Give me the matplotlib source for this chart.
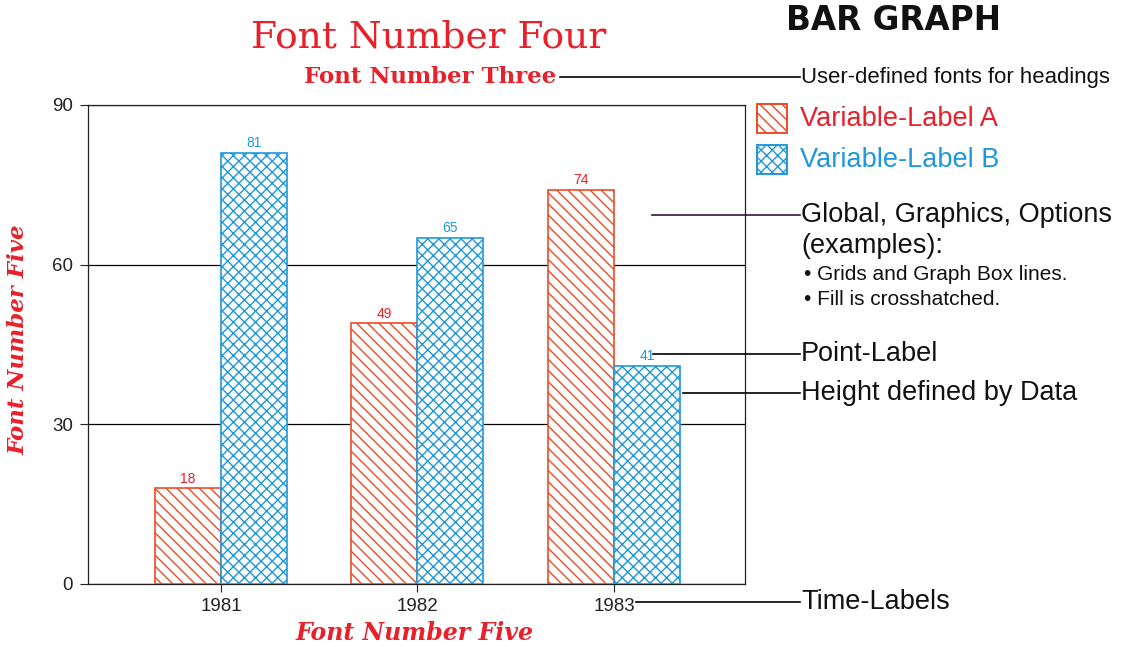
import matplotlib
matplotlib.use('Agg')
import matplotlib.pyplot as plt
from matplotlib.lines import Line2D
from matplotlib.patches import Rectangle

years = ['1981', '1982', '1983']
vals_a = [18, 49, 74]
vals_b = [81, 65, 41]
y_ticks = [0, 30, 60, 90]

red = '#e8202a'
red_edge = '#f04a26'
blue = '#1e98da'

W, H = 1132, 647
plt.rcParams['hatch.linewidth'] = 1.0

fig = plt.figure(figsize=(W / 100.0, H / 100.0), dpi=100)
ax = fig.add_axes([88.0 / W, 1 - 584.0 / H, 657.0 / W, 479.0 / H])

bw = 0.336
xs = list(range(len(years)))
ax.bar([x - bw / 2 for x in xs], vals_a, width=bw, facecolor='white',
       edgecolor=red_edge, hatch='\\\\\\', linewidth=1.2, zorder=3)
ax.bar([x + bw / 2 for x in xs], vals_b, width=bw, facecolor='white',
       edgecolor=blue, hatch='xxx', linewidth=1.2, zorder=3)

for x, v in zip(xs, vals_a):
    ax.text(x - bw / 2, v + 0.5, str(v), ha='center', va='bottom',
            fontsize=10, color=red, family='Liberation Sans')
for x, v in zip(xs, vals_b):
    ax.text(x + bw / 2, v + 0.5, str(v), ha='center', va='bottom',
            fontsize=10, color=blue, family='Liberation Sans')

ax.set_xlim(-0.677, 2.667)
ax.set_ylim(0, 90)
ax.set_yticks(y_ticks)
ax.set_xticks(xs)
ax.set_xticklabels(years)
ax.tick_params(axis='both', direction='out', length=6, width=0.8,
               labelsize=13.5, colors='#222222')
ax.tick_params(axis='y', pad=5)
ax.tick_params(axis='x', pad=4)
for t in ax.get_xticklabels() + ax.get_yticklabels():
    t.set_family('Liberation Sans')
ax.yaxis.grid(True, color='black', linewidth=0.9, zorder=1)
ax.set_axisbelow(True)
for s in ax.spines.values():
    s.set_linewidth(0.9)
    s.set_color('#222222')

def px(x, y):
    return x / W, 1 - y / H

def leader(x0, x1, y, color='black'):
    fig.add_artist(Line2D([x0 / W, x1 / W], [1 - y / H, 1 - y / H],
                          transform=fig.transFigure, color=color, linewidth=1.2))

# axis titles
fig.text(*px(19, 340), 'Font Number Five', fontsize=16.5, color=red,
         family='DejaVu Serif', style='italic', fontweight='bold',
         rotation=90, ha='center', va='center')
fig.text(*px(415, 633), 'Font Number Five', fontsize=17, color=red,
         family='DejaVu Serif', style='italic', fontweight='bold',
         ha='center', va='center')

fig.text(*px(429, 38), 'Font Number Four', fontsize=27, color=red,
         family='DejaVu Serif', ha='center', va='center')
fig.text(*px(556, 77), 'Font Number Three', fontsize=16.5, color=red,
         family='DejaVu Serif', fontweight='bold', ha='right', va='center')
fig.text(*px(894, 20), 'BAR GRAPH', fontsize=23.5, color='#111111',
         family='DejaVu Sans', fontweight='bold', ha='center', va='center')

sans = 'Liberation Sans'
leader(560, 800, 77)
fig.text(*px(801, 77), 'User-defined fonts for headings', fontsize=15.9,
         family=sans, va='center', color='#111111')

# legend swatches
for y0, col, hatch, label in [(104, red_edge, '\\\\\\', 'Variable-Label A'),
                              (145, blue, 'xxx', 'Variable-Label B')]:
    x0, y1 = px(757, y0 + 29)
    fig.add_artist(Rectangle((x0, y1), 30.0 / W, 29.0 / H, transform=fig.transFigure,
                             facecolor='white', edgecolor=col, hatch=hatch,
                             linewidth=1.4))
    fig.text(*px(800, y0 + 15), label, fontsize=19.5, family=sans, va='center',
             color=red if col == red_edge else blue)

leader(652, 800, 215, color='#3a1040')
fig.text(*px(801, 215), 'Global, Graphics, Options', fontsize=19.5, family=sans,
         va='center', color='#111111')
fig.text(*px(801, 246), '(examples):', fontsize=19.5, family=sans,
         va='center', color='#111111')
fig.text(*px(804, 275), u'\u2022 Grids and Graph Box lines.', fontsize=15,
         family=sans, va='center', color='#111111')
fig.text(*px(804, 300), u'\u2022 Fill is crosshatched.', fontsize=15,
         family=sans, va='center', color='#111111')

leader(653, 800, 354)
fig.text(*px(801, 354), 'Point-Label', fontsize=19.5, family=sans,
         va='center', color='#111111')
leader(683, 800, 393)
fig.text(*px(801, 393), 'Height defined by Data', fontsize=19.5, family=sans,
         va='center', color='#111111')
leader(636, 800, 602)
fig.text(*px(801, 602), 'Time-Labels', fontsize=19.5, family=sans,
         va='center', color='#111111')

fig.savefig('out.png', dpi=100)
